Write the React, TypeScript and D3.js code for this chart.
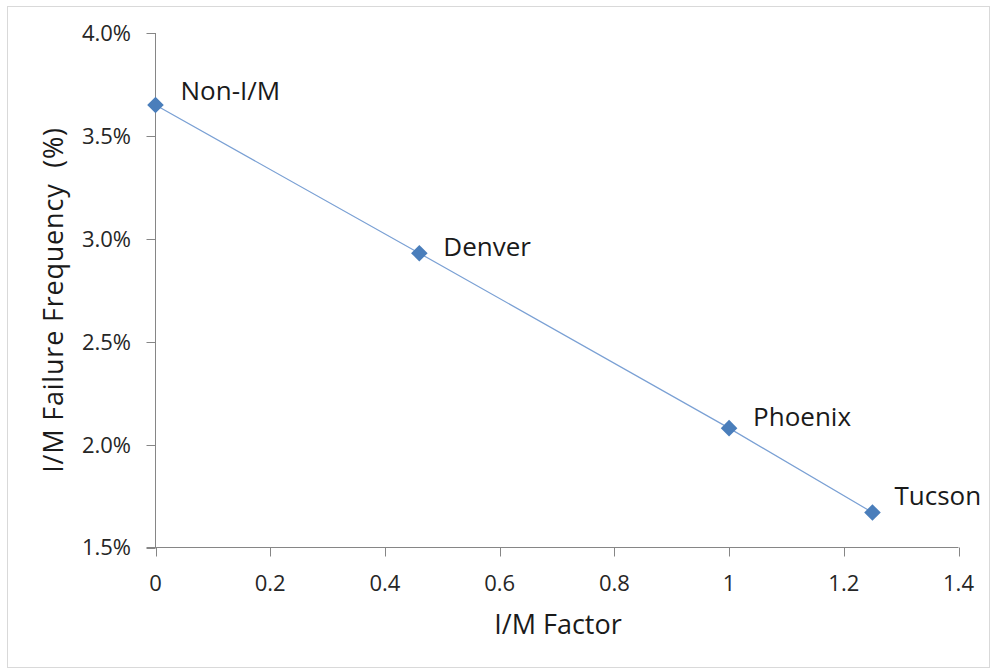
import * as d3 from 'd3';

const sites = ['Non-I/M', 'Denver', 'Phoenix', 'Tucson'];
const imFactor = [0, 0.46, 1.0, 1.25];
const failFreq = [0.0365, 0.0293, 0.0208, 0.0167];
const xTicks = [0, 0.2, 0.4, 0.6, 0.8, 1, 1.2, 1.4];
const yTicks = [0.015, 0.02, 0.025, 0.03, 0.035, 0.04];

// label baseline nudges (px) as placed in the original chart
const labelDy = [-5, 3, -2, -8];
const labelDx = [25, 24, 24, 22];

const FONT = '"Open Sans", "Liberation Sans", sans-serif';
const BLUE = '#4a7ebb';

export default function App() {
  const width = 992;
  const height = 671;
  const left = 155.5;
  const right = 958.5;
  const top = 33;
  const bottom = 547.5;

  const x = d3.scaleLinear().domain([0, 1.4]).range([left, right]);
  const y = d3.scaleLinear().domain([0.015, 0.04]).range([bottom, top]);

  const line = d3
    .line<number>()
    .x((_d, i) => x(imFactor[i]))
    .y((d) => y(d));

  const diamond = d3.symbol().type(d3.symbolDiamond2).size(175)() || '';
  const yFmt = d3.format('.1%');

  return (
    <div style={{ position: 'absolute', left: 0, top: 0 }}>
      <svg width={width} height={height} style={{ display: 'block', fontFamily: FONT }}>
        <rect x={0} y={0} width={width} height={height} fill="#fff" />
        <rect x={7.5} y={6.5} width={982} height={661} fill="none" stroke="#d9d9d9" />

        {/* axes */}
        <line x1={left} x2={left} y1={top} y2={bottom} stroke="#868686" />
        <line x1={left - 9} x2={right} y1={bottom} y2={bottom} stroke="#868686" />
        {yTicks.map((t) => (
          <g key={t}>
            <line x1={left - 9} x2={left} y1={Math.round(y(t)) + 0.5} y2={Math.round(y(t)) + 0.5} stroke="#868686" />
            <text x={left - 24.5} y={y(t)} dy="0.36em" textAnchor="end" fontSize={22} fill="#262626">
              {yFmt(t)}
            </text>
          </g>
        ))}
        {xTicks.map((t) => (
          <g key={t}>
            <line x1={Math.round(x(t)) + 0.5} x2={Math.round(x(t)) + 0.5} y1={bottom} y2={bottom + 9} stroke="#868686" />
            <text x={x(t)} y={bottom + 43} textAnchor="middle" fontSize={22} fill="#262626">
              {String(t)}
            </text>
          </g>
        ))}

        {/* series */}
        <path d={line(failFreq) || ''} fill="none" stroke="#7aa0d4" strokeWidth={1.2} />
        {failFreq.map((v, i) => (
          <path key={sites[i]} d={diamond} transform={`translate(${x(imFactor[i])},${y(v)})`} fill={BLUE} />
        ))}
        {failFreq.map((v, i) => (
          <text key={sites[i]} x={x(imFactor[i]) + labelDx[i]} y={y(v) + labelDy[i]} fontSize={26} fill="#1a1a1a">
            {sites[i]}
          </text>
        ))}

        {/* titles */}
        <text x={558} y={634} textAnchor="middle" fontSize={27} fill="#1a1a1a">
          I/M Factor
        </text>
        <text
          transform="translate(63,300) rotate(-90)"
          textAnchor="middle"
          fontSize={27}
          letterSpacing={0.8}
          fill="#1a1a1a"
          style={{ whiteSpace: 'pre' }}
        >
          {'I/M Failure Frequency  (%)'}
        </text>
      </svg>
    </div>
  );
}
